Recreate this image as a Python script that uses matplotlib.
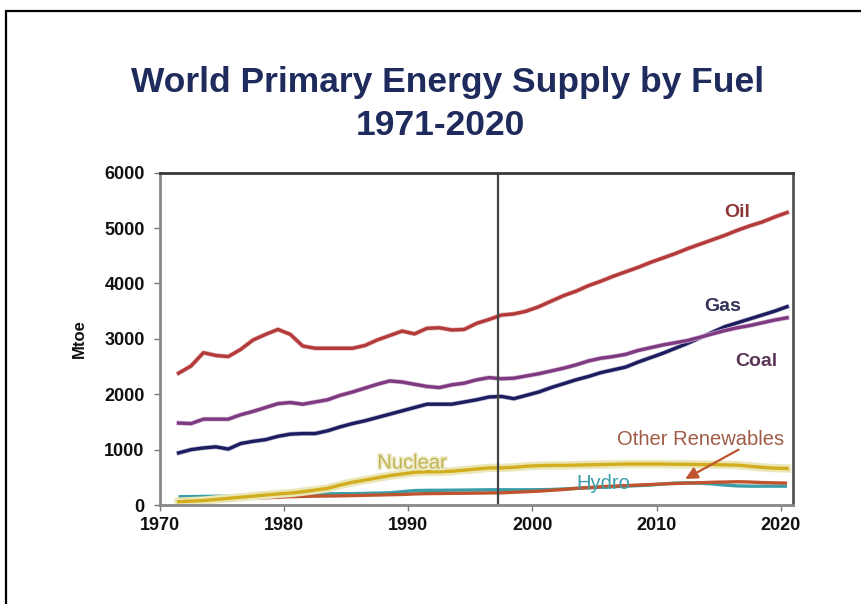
import matplotlib
matplotlib.use("Agg")
import matplotlib.pyplot as plt
import matplotlib.patches as mpatches
import matplotlib.patheffects as pe
import numpy as np

# ---------------- data (Mtoe) ----------------
years = list(range(1971, 2021))
oil = [2380, 2510, 2750, 2700, 2680, 2810, 2980, 3080, 3170, 3080,
       2870, 2830, 2830, 2830, 2830, 2880, 2980, 3060, 3140, 3090,
       3190, 3200, 3160, 3170, 3280, 3350, 3430, 3450, 3500, 3580,
       3680, 3780, 3860, 3960, 4040, 4130, 4210, 4290, 4380, 4460,
       4540, 4630, 4710, 4790, 4870, 4960, 5040, 5110, 5200, 5280]
coal = [1480, 1470, 1550, 1550, 1550, 1630, 1690, 1760, 1830, 1850,
        1820, 1860, 1900, 1980, 2040, 2110, 2180, 2240, 2220, 2180,
        2140, 2120, 2170, 2200, 2260, 2300, 2280, 2290, 2330, 2370,
        2420, 2470, 2530, 2600, 2650, 2680, 2720, 2790, 2840, 2890,
        2930, 2970, 3030, 3090, 3150, 3200, 3240, 3290, 3340, 3380]
gas = [940, 1000, 1030, 1050, 1010, 1110, 1150, 1180, 1240, 1280,
       1290, 1290, 1340, 1410, 1470, 1520, 1580, 1640, 1700, 1760,
       1820, 1820, 1820, 1860, 1900, 1950, 1960, 1920, 1980, 2040,
       2120, 2190, 2260, 2320, 2390, 2440, 2490, 2580, 2660, 2740,
       2830, 2920, 3020, 3120, 3220, 3290, 3360, 3430, 3500, 3580]
nuclear = [60, 70, 80, 100, 120, 140, 160, 180, 200, 215,
           240, 270, 300, 360, 410, 450, 490, 530, 560, 590,
           600, 600, 610, 630, 650, 670, 670, 680, 700, 710,
           715, 715, 720, 725, 730, 735, 740, 740, 740, 740,
           735, 735, 730, 730, 725, 720, 700, 680, 665, 660]
hydro = [150, 152, 155, 158, 160, 170, 190, 200, 205, 200,
         195, 195, 200, 205, 205, 210, 215, 220, 240, 260,
         265, 265, 268, 270, 272, 275, 275, 275, 275, 276,
         280, 290, 300, 310, 320, 330, 340, 350, 360, 380,
         395, 400, 395, 380, 360, 345, 340, 340, 340, 340]
other_ren = [100, 102, 105, 110, 115, 120, 125, 130, 140, 150,
             155, 160, 162, 165, 170, 175, 180, 185, 190, 200,
             205, 208, 210, 212, 215, 218, 220, 230, 240, 250,
             265, 280, 300, 315, 330, 340, 350, 360, 370, 380,
             388, 395, 402, 410, 415, 420, 415, 405, 400, 395]

series_labels = ["Oil", "Gas", "Coal", "Nuclear", "Hydro", "Other Renewables"]
yticks = [0, 1000, 2000, 3000, 4000, 5000, 6000]
xtick_years = [1970, 1980, 1990, 2000, 2010, 2020]
projection_start = 1997.25

# annual values plotted at mid-year
x = np.array(years) + 0.5

# ---------------- figure ----------------
W, H = 861, 604
fig = plt.figure(figsize=(W / 100, H / 100), dpi=100)
fig.patch.set_facecolor("white")
plt.rcParams["font.family"] = ["Liberation Sans", "DejaVu Sans"]

# outer frame (partly cut off in the reference)
frame = mpatches.Rectangle((6 / W, -0.2), 1.5, (1 - 11.5 / H) + 0.2,
                           transform=fig.transFigure, fill=False,
                           edgecolor="black", linewidth=1.6, clip_on=False)
fig.patches.append(frame)

left, right, bottom, top = 160, 793, 505, 172.7
ax = fig.add_axes([left / W, 1 - bottom / H, (right - left) / W, (bottom - top) / H])

c_oil = "#b33a3a"
c_coal = "#7d3a80"
c_gas = "#1c1c5e"
c_nuc = "#d2ae1e"
c_hydro = "#3a9ea8"
c_oth = "#c0542e"

ax.plot(x, hydro, color=c_hydro, lw=2.4, solid_capstyle="butt")
ax.plot(x, other_ren, color=c_oth, lw=2.4, solid_capstyle="butt")
ax.plot(x, nuclear, color=c_nuc, lw=2.4,
        path_effects=[pe.Stroke(linewidth=6, foreground="#ebe6b8"), pe.Normal()])
ax.plot(x, gas, color=c_gas, lw=2.4,
        path_effects=[pe.Stroke(linewidth=3.4, foreground="#b9b9d4"), pe.Normal()])
ax.plot(x, coal, color=c_coal, lw=2.4,
        path_effects=[pe.Stroke(linewidth=3.4, foreground="#d8b9d8"), pe.Normal()])
ax.plot(x, oil, color=c_oil, lw=2.4,
        path_effects=[pe.Stroke(linewidth=3.4, foreground="#e8b8b8"), pe.Normal()])

ax.axvline(projection_start, color="#444444", lw=1.6)

ax.set_xlim(1970.05, 2020.98)
ax.set_ylim(0, 6000)
ax.set_yticks(yticks)
ax.set_yticklabels([str(v) for v in yticks])
ax.set_xticks(xtick_years)
ax.set_xticklabels([str(v) for v in xtick_years])

for lab in ax.get_xticklabels() + ax.get_yticklabels():
    lab.set_fontweight("bold")
    lab.set_fontsize(13)
    lab.set_color("#111111")
ax.tick_params(axis="y", direction="out", length=4, width=1, color="#777777", pad=7)
ax.tick_params(axis="x", direction="out", length=4, width=1, color="#777777", pad=5)

ax.spines["top"].set_color("#3a3a3a")
ax.spines["top"].set_linewidth(2)
ax.spines["right"].set_color("#555555")
ax.spines["right"].set_linewidth(2)
ax.spines["left"].set_color("#888888")
ax.spines["left"].set_linewidth(2)
ax.spines["bottom"].set_color("#888888")
ax.spines["bottom"].set_linewidth(2)

ax.set_ylabel("Mtoe", fontsize=12, fontweight="bold", color="#111111")
ax.yaxis.set_label_coords(-0.115, 0.5)

# series labels
ax.text(2016.5, 5290, series_labels[0], color="#8c3636", fontsize=14,
        fontweight="bold", ha="center", va="center")
ax.text(2015.3, 3593, series_labels[1], color="#33335a", fontsize=14,
        fontweight="bold", ha="center", va="center")
ax.text(2018.0, 2600, series_labels[2], color="#5a3555", fontsize=14,
        fontweight="bold", ha="center", va="center")
ax.text(1990.3, 758, series_labels[3], color="#c2b455", fontsize=14.5,
        ha="center", va="center",
        path_effects=[pe.withStroke(linewidth=2.5, foreground="#efeccc")])
ax.text(2005.7, 397, series_labels[4], color="#3a9ea8", fontsize=14.5,
        ha="center", va="center")
ax.text(2013.5, 1174, series_labels[5], color="#a05c46", fontsize=14.5,
        ha="center", va="center")
ax.annotate("", xy=(2012.3, 470), xytext=(2016.6, 1000),
            arrowprops=dict(arrowstyle="-|>", color="#c0542e", lw=1.6,
                            mutation_scale=18, shrinkA=0, shrinkB=0))

# title
fig.text(447.5 / W, 1 - 92 / H, "World Primary Energy Supply by Fuel",
         ha="center", va="baseline", fontsize=25.5, fontweight="bold",
         color="#1f2b5c")
fig.text(440 / W, 1 - 135 / H, "1971-2020",
         ha="center", va="baseline", fontsize=25.5, fontweight="bold",
         color="#1f2b5c")

fig.savefig("out.png", dpi=100, facecolor="white")
